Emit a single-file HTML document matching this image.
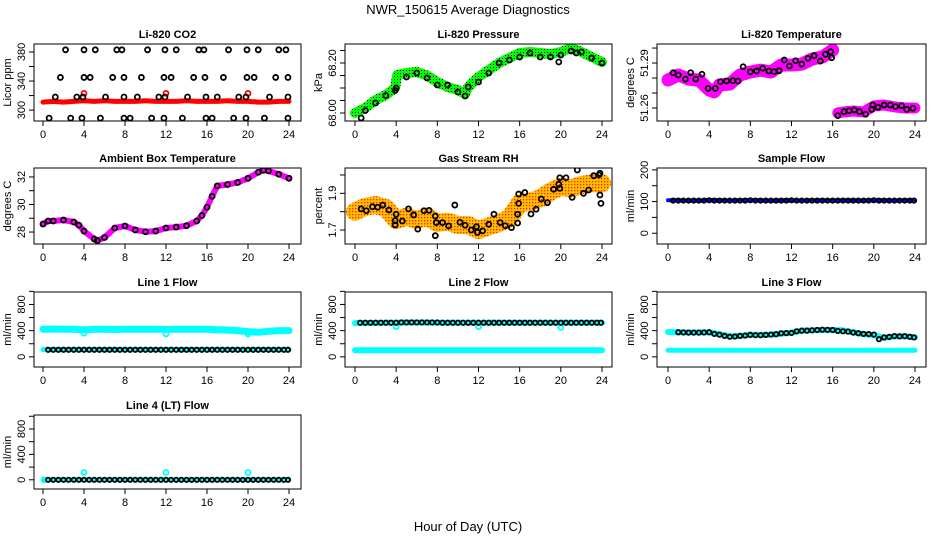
<!DOCTYPE html>
<html><head><meta charset="utf-8"><style>
html,body{margin:0;padding:0;background:#fff;}
svg{display:block;font-family:"Liberation Sans",sans-serif;}
</style></head><body>
<svg id="chart" width="936" height="540" viewBox="0 0 936 540">
<defs>
<pattern id="gdots" width="3" height="3" patternUnits="userSpaceOnUse"><rect width="3" height="3" fill="#00ff00"/><rect x="1" y="1" width="1" height="1" fill="#000"/></pattern>
<pattern id="odots" width="3" height="3" patternUnits="userSpaceOnUse"><rect width="3" height="3" fill="#ffc000"/><rect x="1" y="1" width="1.3" height="1.3" fill="#ff2000"/></pattern>
</defs>
<text x="468" y="14" text-anchor="middle" font-size="13">NWR_150615  Average Diagnostics</text>
<text x="468" y="531" text-anchor="middle" font-size="13">Hour of Day (UTC)</text>
</svg>
<script>
// ---- shared hours ----
const HH = [0.5,1,1.5,2,2.5,3,3.5,4,4.5,5,5.5,6,6.5,7,7.5,8,8.5,9,9.5,10,10.5,11,11.5,12,12.5,13,13.5,14,14.5,15,15.5,16,16.5,17,17.5,18,18.5,19,19.5,20,20.5,21,21.5,22,22.5,23,23.5,23.9];
const bandHours = [0,1,2,3,4,5,6,7,8,9,10,11,12,13,14,15,16,17,18,19,20,21,22,23,24];
// ---- CO2 ----
const co2Band = [311,312,311,312,313,312,313,312,312,312,313,312,312,312,313,312,312,312,313,312,312,311,311,312,312];
const co2RedHours = [4,12,20];
const co2RedVals = [323,323,323];
const co2H383 = [2.2,4.0,5.1,7.2,7.7,10.2,11.9,13.0,15.2,15.7,18.1,19.9,21.0,23.0,23.7];
const co2H345 = [1.7,4.0,4.6,6.8,7.9,9.6,11.8,12.5,14.7,15.8,17.6,19.9,20.6,22.7,23.9];
const co2H318 = [1.2,3.3,3.9,6.1,7.9,9.2,11.3,11.9,14.1,15.9,17.0,19.1,19.8,22.1,23.9];
const co2H289 = [0.6,2.7,3.8,5.6,7.9,8.5,10.6,11.8,13.6,15.9,16.5,18.6,19.8,21.6,23.9];
const co2Levels = [383,345,318,289];
// ---- Pressure ----
const presBandHours = [0,1,2,3,3.9,4.1,5,6,7,8,9,10,10.7,11,12,13,14,15,16,17,18,19,20,21,22,23,24];
const presBand = [68.00,68.02,68.052,68.072,68.10,68.152,68.16,68.164,68.15,68.124,68.104,68.092,68.076,68.104,68.144,68.172,68.2,68.22,68.24,68.244,68.24,68.236,68.244,68.26,68.244,68.224,68.204];
const presPtHours = [0.6,1,2,3,3.9,4,5,6,7,8,9,10,10.7,11,12,13,14,15,16,17,18,19,19.8,20,21,21.5,22,23,24];
const presPts = [67.98,68.01,68.04,68.07,68.09,68.10,68.144,68.16,68.14,68.112,68.112,68.084,68.068,68.104,68.124,68.16,68.2,68.212,68.224,68.24,68.224,68.224,68.204,68.232,68.248,68.24,68.244,68.22,68.2];
// ---- Li-820 Temp ----
const ltA_H = [0,1,2,3,4,4.5,5,6,7,8,9,10,11,12,13,14,15,16];
const ltA_V = [51.2787,51.282,51.2793,51.2787,51.272,51.2707,51.2753,51.276,51.282,51.284,51.2853,51.284,51.2887,51.2887,51.2893,51.2927,51.294,51.2987];
const ltB_H = [16.5,17,18,19,20,21,22,23,24];
const ltB_V = [51.2567,51.2573,51.258,51.2573,51.2613,51.262,51.2607,51.26,51.26];
const ltPtH = [0.5,1,1.7,2.2,2.7,3.3,3.9,4.6,5.1,5.7,6.3,6.8,7.3,8,8.6,9.2,9.8,10.3,10.8,11.3,11.8,12.4,13,13.6,14.2,14.8,15.3,15.8,15.9,16.5,17.1,17.6,18.1,18.6,19.2,19.8,19.9,20.4,21,21.6,22.1,22.7,23.2,23.8];
const ltPtV = [51.2835,51.282,51.2793,51.2835,51.2793,51.2825,51.2731,51.2731,51.2775,51.278,51.2782,51.278,51.2875,51.2842,51.2847,51.2865,51.2847,51.2842,51.2849,51.292,51.288,51.2915,51.2893,51.2931,51.2949,51.2913,51.2958,51.2975,51.2935,51.2549,51.2575,51.2582,51.2587,51.2575,51.2558,51.2591,51.262,51.2605,51.262,51.262,51.2609,51.2615,51.2591,51.2598];
// ---- Ambient ----
const ambH = [0,0.5,1,2,3,3.5,4,5,5.3,6,7,8,9,10,11,12,13,14,15,15.5,16,16.5,17,18,19,20,21,21.5,22,23,24];
const ambV = [28.58,28.8,28.8,28.87,28.73,28.5,28.07,27.49,27.38,27.6,28.29,28.44,28.15,28.02,28.07,28.29,28.36,28.46,28.8,29.2,29.8,30.6,31.35,31.45,31.6,31.9,32.34,32.49,32.44,32.2,31.9];
// ---- Gas stream RH ----
const rhBand = [1.80,1.827,1.836,1.82,1.754,1.773,1.754,1.773,1.738,1.745,1.727,1.727,1.70,1.72,1.738,1.764,1.845,1.854,1.873,1.909,1.936,1.927,1.945,1.955,1.955];
const rhPtH = [0.6,1.1,1.7,2.2,2.7,3.3,3.9,3.9,4.0,4.6,5.2,5.7,6.1,6.7,7.2,7.8,7.8,7.9,8.5,9.1,9.7,10.2,10.7,11.3,11.8,11.9,12.4,13.0,13.5,14.1,14.6,15.2,15.8,15.8,15.9,15.9,16.5,17.1,17.6,18.1,18.7,19.3,19.8,19.9,19.9,20.5,21.1,21.6,22.2,22.7,23.2,23.7,23.8,23.9,23.8];
const rhPtV = [1.815,1.805,1.827,1.824,1.836,1.809,1.751,1.727,1.786,1.749,1.815,1.782,1.705,1.805,1.807,1.776,1.669,1.74,1.74,1.722,1.836,1.742,1.726,1.70,1.718,1.687,1.695,1.731,1.786,1.74,1.723,1.713,1.786,1.738,1.845,1.896,1.904,1.787,1.813,1.869,1.849,1.922,1.949,1.985,1.927,1.985,1.878,2.027,1.9,1.918,1.996,2.0,1.891,1.845,2.009];
// ---- Sample flow ----
const sfBand = [104,104,103,103,105,104,103,104,105,104,103,104,104,103,104,104,103,104,104,103,105,104,103,104,104];
const sfPts = [103,103,103,103,103,103,103,104,103,103,103,103,103,103,103,104,103,103,103,103,103,103,103,104,103,103,103,103,103,103,103,103,103,103,103,103,103,103,103,104,103,103,103,103,103,103,103,103];
// ---- Line 1 ----
const l1Top = [420,425,420,420,415,420,420,418,420,420,420,420,418,420,420,420,420,415,410,400,385,375,390,400,400];
const l1Low = [110,110,110,110,110,110,110,110,110,110,110,110,110,110,110,110,110,110,110,110,110,110,110,110,110];
const l1DipH = [4,12,20];
const l1DipV = [360,350,350];
const l1Pts = [108,108,108,108,108,108,108,108,108,108,108,108,108,108,108,108,108,108,108,108,108,108,108,108,108,108,108,108,108,108,108,108,108,108,108,108,108,108,108,108,108,108,108,108,108,108,108,108];
// ---- Line 2 ----
const l2Top = [515,515,518,520,520,525,525,525,522,520,520,520,520,520,520,520,520,520,520,520,520,520,520,520,520];
const l2Low = [100,100,100,100,100,100,100,100,100,100,100,100,100,100,100,100,100,100,100,100,100,100,100,100,100];
const l2DipH = [4,12,20];
const l2DipV = [460,460,450];
const l2Pts = [521,521,521,521,521,521,521,521,525,525,525,525,525,525,525,525,521,521,521,521,521,521,521,521,521,521,521,521,521,521,521,521,521,521,521,521,521,521,521,521,521,521,521,521,521,521,521,521];
// ---- Line 3 ----
const l3Top = [380,375,372,372,375,345,315,320,340,335,340,355,370,400,405,410,410,405,375,345,330,290,310,315,297];
const l3Low = [100,100,100,100,100,100,100,100,100,100,100,100,100,100,100,100,100,100,100,100,100,100,100,100,100];
const l3PtH = [1,1.5,2,2.5,3,3.5,4,4.5,5,5.5,6,6.5,7,7.5,8,8.5,9,9.5,10,10.5,11,11.5,12,12.5,13,13.5,14,14.5,15,15.5,16,16.5,17,17.5,18,18.5,19,19.5,20,20.5,21,21.5,22,22.5,23,23.5,23.9];
const l3Pts = [375,372,370,370,370,372,375,350,338,320,306,310,320,325,335,330,330,335,340,345,360,362,365,390,400,400,405,410,415,412,410,395,390,385,370,360,350,348,340,270,297,305,317,312,315,305,297];
// ---- Line 4 ----
const l4Low = [0,0,0,0,0,0,0,0,0,0,0,0,0,0,0,0,0,0,0,0,0,0,0,0,0];
const l4CyanH = [0.1,4,12,20];
const l4CyanV = [0,115,115,115];
const l4Pts = [0,0,0,0,0,0,0,0,0,0,0,0,0,0,0,0,0,0,0,0,0,0,0,0,0,0,0,0,0,0,0,0,0,0,0,0,0,0,0,0,0,0,0,0,0,0,0,0];
// ---- axis tick arrays ----
const xTicks = [0,4,8,12,16,20,24];
const co2Ticks = [300,320,340,360,380], co2Labels = [300,340,380];
const presTicks = [68.00,68.05,68.10,68.15,68.20,68.25], presLabels = ["68.00","68.20"];
const ltTicks = [51.26,51.27,51.28,51.29,51.30], ltLabels = ["51.26","51.29"];
const ambTicks = [28,29,30,31,32], ambLabels = [28,30,32];
const rhTicks = [1.7,1.8,1.9,2.0], rhLabels = ["1.7","1.9"];
const sfTicks = [0,50,100,150,200], sfLabels = [0,100,200];
const flowTicks = [0,200,400,600,800,1000], flowLabels = [0,400,800];

const NS = "http://www.w3.org/2000/svg";
const svg = document.getElementById('chart');
function mk(tag, attrs, parent){ const e = document.createElementNS(NS, tag); for (const k in attrs) e.setAttribute(k, attrs[k]); (parent||svg).appendChild(e); return e; }

const COLS = [{l:34,r:301,x0:43,x24:289},{l:345,r:612,x0:355,x24:602},{l:657,r:926,x0:668,x24:915}];
const ROWS = [{t:44,b:121},{t:168,b:244},{t:292,b:367},{t:415,b:489}];

function makePanel(name, title, ylab, col, row, ymin, ymax, ticks, labels){
  const C = COLS[col], R = ROWS[row];
  const g = mk('g', {});
  
  
  const sx = t => C.x0 + t / 24 * (C.x24 - C.x0);
  const sy = v => R.b - (v - ymin) / (ymax - ymin) * (R.b - R.t);
  const tt = mk('text', {x:(C.l + C.r)/2, y:R.t - 6, 'text-anchor':'middle', 'font-size':11, 'font-weight':'bold'}, g);
  tt.textContent = title;
  
  
  const yl = mk('text', {x:0, y:0, 'text-anchor':'middle', 'font-size':11, transform:`translate(${C.l-23},${(R.t+R.b)/2}) rotate(-90)`}, g);
  yl.textContent = ylab;
  
  
  const xa = mk('g', {stroke:'#000', 'stroke-width':1}, g);
  
  
  xTicks.forEach(t => {
    mk('line', {x1:sx(t), x2:sx(t), y1:R.b, y2:R.b+5}, xa);
    const lb = mk('text', {x:sx(t), y:R.b+17, 'text-anchor':'middle', 'font-size':11, stroke:'none'}, xa);
    lb.textContent = t;
  });
  const ya = mk('g', {stroke:'#000', 'stroke-width':1}, g);
  
  
  ticks.forEach(v => mk('line', {x1:C.l-5, x2:C.l, y1:sy(v), y2:sy(v)}, ya));
  labels.forEach(v => {
    const lb = mk('text', {x:0, y:0, 'text-anchor':'middle', 'font-size':11, stroke:'none', transform:`translate(${C.l-9},${sy(+v)}) rotate(-90)`}, ya);
    lb.textContent = v;
  });
  const clipId = 'clip-' + name;
  const cp = mk('clipPath', {id:clipId}, g);
  mk('rect', {x:C.l, y:R.t, width:C.r-C.l, height:R.b-R.t}, cp);
  const plot = mk('g', {'clip-path':`url(#${clipId})`}, g);
  const box = mk('rect', {x:C.l, y:R.t, width:C.r-C.l, height:R.b-R.t, fill:'none', stroke:'#000', 'stroke-width':1});
  
  
  g.appendChild(box);
  return {g, plot, sx, sy};
}
function band(P, hours, vals, color, w, name){
  const pts = hours.map((h,i) => P.sx(h).toFixed(1) + ',' + P.sy(vals[i]).toFixed(1)).join(' ');
  const pl = mk('polyline', {points:pts, fill:'none', stroke:color, 'stroke-width':w, 'stroke-linejoin':'round', 'stroke-linecap':'round'}, P.plot);
  
  
}
function circles(P, hours, vals, color, name, r){
  const g = mk('g', {fill:'none', stroke:color, 'stroke-width':1.8}, P.plot);
  
  
  hours.forEach((h,i) => mk('circle', {cx:P.sx(h), cy:P.sy(vals[i]), r:r||2.5}, g));
}
function sameLevel(n, v){ const a=[]; for(let i=0;i<n;i++) a.push(v); return a; }

let P = makePanel('co2-panel','Li-820 CO2','Licor ppm',0,0,285,391,co2Ticks,co2Labels);
band(P, bandHours, co2Band, '#ff0000', 5, 'co2-series');
circles(P, co2RedHours, co2RedVals, '#ff0000', 'co2-red-points');
[co2H383,co2H345,co2H318,co2H289].forEach((hs,k) => circles(P, hs, sameLevel(hs.length, co2Levels[k]), '#000', 'co2-average-points'));
P = makePanel('pressure-panel','Li-820 Pressure','kPa',1,0,67.968,68.276,presTicks,presLabels);
band(P, presBandHours, presBand, 'url(#gdots)', 10, 'pressure-series');
circles(P, presPtHours, presPts, '#000', 'pressure-average-points');
P = makePanel('li820-temp-panel','Li-820 Temperature','degrees C',2,0,51.2513,51.3027,ltTicks,ltLabels);
band(P, ltA_H, ltA_V, '#ff00ff', 13, 'li820-temp-series-a');
band(P, ltB_H, ltB_V, '#ff00ff', 11, 'li820-temp-series-b');
circles(P, ltPtH, ltPtV, '#000', 'li820-temp-average-points');
P = makePanel('ambient-temp-panel','Ambient Box Temperature','degrees C',0,1,27.13,32.65,ambTicks,ambLabels);
band(P, ambH, ambV, '#ff00ff', 6, 'ambient-temp-series');
circles(P, ambH, ambV, '#000', 'ambient-temp-average-points');
P = makePanel('rh-panel','Gas Stream RH','percent',1,1,1.6236,2.038,rhTicks,rhLabels);
band(P, bandHours, rhBand, 'url(#odots)', 18, 'rh-series');
circles(P, rhPtH, rhPtV, '#000', 'rh-average-points');
P = makePanel('sample-flow-panel','Sample Flow','ml/min',2,1,-34,206,sfTicks,sfLabels);
band(P, bandHours, sfBand, '#0000ff', 4, 'sample-flow-series');
circles(P, HH, sfPts, '#000', 'sample-flow-average-points', 2.2);
P = makePanel('line1-flow-panel','Line 1 Flow','ml/min',0,2,-155,990,flowTicks,flowLabels);
band(P, bandHours, l1Top, '#00ffff', 7, 'line1-high-series');
band(P, bandHours, l1Low, '#00ffff', 5, 'line1-low-series');
circles(P, l1DipH, l1DipV, '#00ffff', 'line1-dip-points');
circles(P, HH, l1Pts, '#000', 'line1-average-points', 2.2);
P = makePanel('line2-flow-panel','Line 2 Flow','ml/min',1,2,-155,990,flowTicks,flowLabels);
band(P, bandHours, l2Top, '#00ffff', 6, 'line2-high-series');
band(P, bandHours, l2Low, '#00ffff', 6, 'line2-low-series');
circles(P, l2DipH, l2DipV, '#00ffff', 'line2-dip-points');
circles(P, HH, l2Pts, '#000', 'line2-average-points', 2.2);
P = makePanel('line3-flow-panel','Line 3 Flow','ml/min',2,2,-155,990,flowTicks,flowLabels);
band(P, bandHours, l3Top, '#00ffff', 6, 'line3-high-series');
band(P, bandHours, l3Low, '#00ffff', 5, 'line3-low-series');
circles(P, l3PtH, l3Pts, '#000', 'line3-average-points', 2.2);
P = makePanel('line4-flow-panel','Line 4 (LT) Flow','ml/min',0,3,-145,1020,flowTicks,flowLabels);
band(P, bandHours, l4Low, '#00ffff', 4, 'line4-series');
circles(P, l4CyanH, l4CyanV, '#00ffff', 'line4-cyan-points');
circles(P, HH, l4Pts, '#000', 'line4-average-points', 2.2);
</script>
</body></html>
